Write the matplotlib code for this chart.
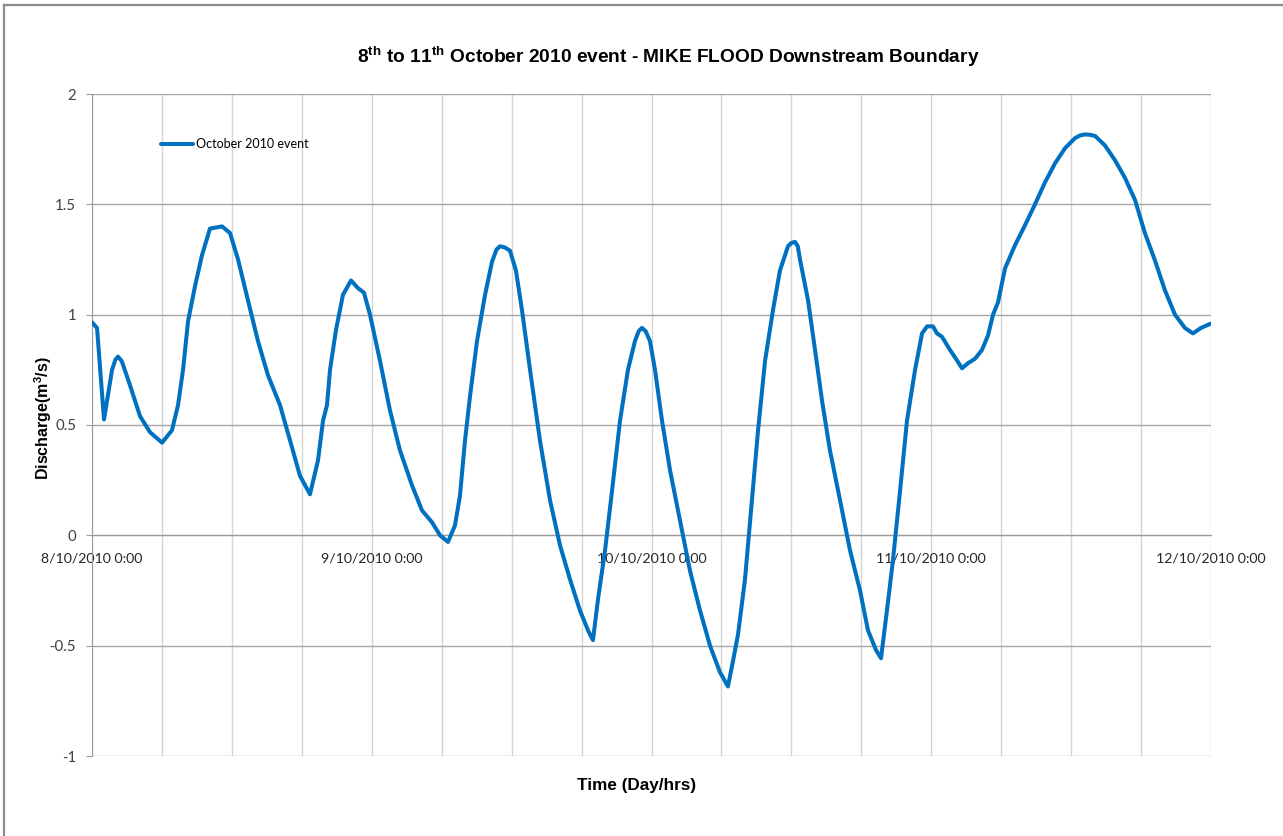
import matplotlib
matplotlib.use("Agg")
import matplotlib.pyplot as plt
import matplotlib.dates as mdates
from matplotlib.lines import Line2D
import pandas as pd

plt.rcParams["mathtext.fontset"] = "custom"
plt.rcParams["mathtext.rm"] = "Liberation Sans"
plt.rcParams["mathtext.bf"] = "Liberation Sans:bold"
plt.rcParams["mathtext.it"] = "Liberation Sans:bold"

# Hours since 8/10/2010 0:00 and discharge (m3/s) at the downstream boundary
hours = [0.00, 0.43, 1.03, 1.72, 2.00, 2.23, 2.55, 3.26, 4.12, 4.98, 6.01, 6.86, 7.38, 7.81,
         8.24, 8.84, 9.44, 10.12, 11.15, 11.84, 12.53, 13.38, 14.24, 15.10, 16.13,
         16.99, 17.84, 18.70, 19.39, 19.82, 20.16, 20.42, 20.93, 21.53, 22.22, 22.82,
         23.33, 23.85, 24.71, 25.56, 26.42, 27.45, 28.31, 29.17, 29.86, 30.54, 31.14,
         31.57, 32.00, 32.43, 33.03, 33.72, 34.32, 34.70, 35.00, 35.40, 35.86, 36.37,
         36.89, 37.58,
         38.43, 39.29, 40.15, 41.01, 41.86, 42.55, 42.98, 43.41, 44.01, 44.61, 45.30,
         45.98, 46.58, 46.90, 47.18, 47.50, 47.87, 48.30, 48.90, 49.59, 50.44, 51.30,
         52.16, 53.02,
         53.87, 54.56, 54.99, 55.42, 56.02, 56.62, 57.14, 57.74, 58.42, 59.02, 59.71,
         60.00, 60.31, 60.55, 60.74, 61.43, 62.03, 62.63, 63.31, 64.17, 65.03, 65.89,
         66.57, 67.26,
         67.69, 68.20, 68.72, 69.32, 69.92, 70.61, 71.21, 71.64, 72.15, 72.49, 72.92,
         73.61, 74.12, 74.64, 75.15, 75.75, 76.35, 76.87, 77.30, 77.73, 78.33, 79.18,
         80.04, 80.90, 81.76, 82.62, 83.47, 84.33, 84.76, 85.19, 85.60, 86.05, 86.90,
         87.76, 88.62,
         89.48, 90.33, 91.19, 92.05, 92.91, 93.76, 94.45, 95.14, 96.00]
discharge = [0.965, 0.94, 0.525, 0.75, 0.795, 0.81, 0.79, 0.68, 0.54, 0.467, 0.42, 0.476,
             0.59, 0.75,
             0.97, 1.13, 1.27, 1.39, 1.40, 1.37, 1.25, 1.065, 0.88, 0.725, 0.59,
             0.43, 0.27, 0.186, 0.34, 0.52, 0.59, 0.75, 0.93, 1.09, 1.155, 1.12,
             1.10, 1.0, 0.79, 0.567, 0.385, 0.227, 0.113, 0.059, 0.0, -0.03, 0.045,
             0.18, 0.43, 0.63, 0.88, 1.09, 1.24, 1.295, 1.31, 1.305, 1.29, 1.2,
             1.02, 0.75,
             0.43, 0.16, -0.045, -0.2, -0.34, -0.43, -0.475, -0.29, -0.07, 0.2, 0.52,
             0.75, 0.88, 0.925, 0.94, 0.925, 0.88, 0.75, 0.52, 0.295, 0.068, -0.16,
             -0.34, -0.5,
             -0.62, -0.685, -0.57, -0.45, -0.2, 0.16, 0.475, 0.79, 1.02, 1.2, 1.31,
             1.325, 1.33, 1.31, 1.25, 1.065, 0.84, 0.61, 0.385, 0.16, -0.068, -0.25,
             -0.43, -0.52,
             -0.557, -0.34, -0.11, 0.2, 0.52, 0.75, 0.915, 0.947, 0.947, 0.915, 0.9,
             0.84, 0.8, 0.757, 0.78, 0.8, 0.84, 0.906, 1.0, 1.056, 1.21, 1.314,
             1.405, 1.5, 1.6, 1.686, 1.754, 1.8, 1.812, 1.817, 1.815, 1.81, 1.767,
             1.7, 1.62,
             1.52, 1.37, 1.246, 1.11, 1.0, 0.94, 0.915, 0.94, 0.96]

start = pd.Timestamp("2010-10-08 00:00")
end = pd.Timestamp("2010-10-12 00:00")
times = start + pd.to_timedelta(hours, unit="h")

title = (r"8$^{\mathbf{th}}$ to 11$^{\mathbf{th}}$ October 2010 event - "
         r"MIKE FLOOD Downstream Boundary")
series_label = "October 2010 event"
y_ticks = [-1, -0.5, 0, 0.5, 1, 1.5, 2]
y_tick_labels = ["-1", "-0.5", "0", "0.5", "1", "1.5", "2"]

fig = plt.figure(figsize=(12.83, 8.36), dpi=100)
ax = fig.add_axes([92 / 1283, 1 - 756 / 836, (1211 - 92) / 1283, (756 - 94) / 836])

ax.plot(times, discharge, color="#0070C0", lw=2.9, solid_capstyle="round",
        solid_joinstyle="round", label=series_label, zorder=3)

ax.set_xlim(start, end)
ax.set_ylim(-1, 2)
ax.set_yticks(y_ticks)
ax.set_yticklabels(y_tick_labels)

ax.xaxis.set_major_locator(mdates.DayLocator())
ax.xaxis.set_major_formatter(mdates.DateFormatter("%-d/%m/%Y %-H:%M"))
ax.xaxis.set_minor_locator(mdates.HourLocator(byhour=[6, 12, 18]))

# Horizontal axis crosses at zero discharge
ax.spines["bottom"].set_position(("data", 0))
ax.spines["bottom"].set_color("#9a9a9a")
ax.spines["left"].set_color("#9a9a9a")
ax.spines["top"].set_visible(False)
ax.spines["right"].set_visible(False)

ax.grid(axis="y", color="#a6a6a6", lw=1.0)
ax.grid(axis="x", which="both", color="#d4d4d4", lw=1.0)
ax.set_axisbelow(True)

ax.tick_params(axis="x", which="both", length=0, pad=12.5, labelsize=10.2,
               labelcolor="#262626")
for lbl in ax.get_xticklabels():
    lbl.set_fontfamily("Lato")
ax.tick_params(axis="y", length=4, color="#9a9a9a", pad=7.5, labelsize=10.8,
               labelcolor="#404040")
for lbl in ax.get_yticklabels():
    lbl.set_fontfamily("Lato")

ax.set_title(title, fontsize=13.8, fontweight="bold", family="Liberation Sans",
             pad=22, x=0.5147)
ax.text(0.487, -0.033, "Time (Day/hrs)", transform=ax.transAxes, ha="center",
        va="top", fontsize=12.3, fontweight="bold", family="Liberation Sans")
ax.set_ylabel(r"Discharge(m$^{\mathbf{3}}$/s)", fontsize=11.5, fontweight="bold",
              family="Liberation Sans")
ax.yaxis.set_label_coords(-0.034, 0.51)

leg = ax.legend(loc="center left", bbox_to_anchor=(0.057, 0.924), frameon=False,
                handlelength=2.6, handletextpad=0.25, borderaxespad=0,
                prop={"family": "Lato", "size": 9})

# Outer chart frame (top and left edges)
fig.add_artist(Line2D([4 / 1283, 1.0], [1 - 5 / 836, 1 - 5 / 836],
                      transform=fig.transFigure, color="#8c8c8c", lw=1.6))
fig.add_artist(Line2D([4 / 1283, 4 / 1283], [0.0, 1 - 5 / 836],
                      transform=fig.transFigure, color="#8c8c8c", lw=1.6))

fig.savefig("out.png", dpi=100, facecolor="white")
